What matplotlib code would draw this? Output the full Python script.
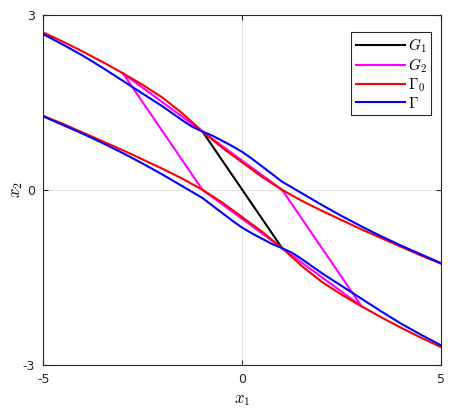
import matplotlib
matplotlib.use("Agg")
import matplotlib.pyplot as plt

plt.rcParams["mathtext.fontset"] = "cm"
plt.rcParams["axes.unicode_minus"] = False

# ── data ─────────────────────────────────────────────────
# G1: straight segment
g1_x = [-1, 1]
g1_y = [1, -1]

# G2: closed polygon
g2_x = [-3, -1, 1, 3, 1, -1, -3]
g2_y = [2, 1, 0, -2, -1, 0, 2]

# Gamma_0 (red), upper and lower branch
red_x = [-5, -4.5, -4, -3.5, -3, -2.5, -2, -1.5, -1, -0.5, 0,
         0.5, 1, 1.5, 2, 2.5, 3, 3.5, 4, 4.5, 5]
red_up = [2.70, 2.54, 2.37, 2.19, 2.00, 1.80, 1.58, 1.31, 1.00, 0.72, 0.47,
          0.22, 0.00, -0.19, -0.36, -0.52, -0.68, -0.83, -0.98, -1.13, -1.27]
red_lo = [1.27, 1.13, 0.98, 0.83, 0.68, 0.52, 0.36, 0.19, 0.00, -0.22, -0.47,
          -0.72, -1.00, -1.31, -1.58, -1.80, -2.00, -2.19, -2.37, -2.54, -2.70]

# Gamma (blue), upper and lower branch
blue_up_x = [-5, -4.5, -4, -3.5, -3, -2.5, -2, -1.75, -1.5, -1.25, -1,
             -0.75, -0.5, -0.25, 0, 0.25, 0.5, 0.75, 1, 1.5, 2, 2.5, 3,
             3.5, 4, 4.5, 5]
blue_up = [2.67, 2.49, 2.30, 2.09, 1.87, 1.65, 1.43, 1.31, 1.19, 1.08, 1.00,
           0.93, 0.84, 0.75, 0.65, 0.53, 0.40, 0.27, 0.14, -0.06, -0.26, -0.45, -0.63,
           -0.80, -0.96, -1.11, -1.26]
blue_lo_x = [-5, -4.5, -4, -3.5, -3, -2.5, -2, -1.5, -1, -0.75, -0.5,
             -0.25, 0, 0.25, 0.5, 0.75, 1, 1.25, 1.5, 1.75, 2, 2.5, 3,
             3.5, 4, 4.5, 5]
blue_lo = [1.26, 1.11, 0.96, 0.80, 0.63, 0.45, 0.26, 0.06, -0.14, -0.27, -0.40,
           -0.53, -0.65, -0.75, -0.84, -0.93, -1.00, -1.08, -1.19, -1.31, -1.43, -1.65, -1.87,
           -2.09, -2.30, -2.49, -2.67]

xticks = [-5, 0, 5]
yticks = [-3, 0, 3]

# ── figure ───────────────────────────────────────────────
fig = plt.figure(figsize=(4.54, 4.11), dpi=100)
ax = fig.add_axes([0.0954, 0.1127, 0.8766, 0.8508])

lw = 1.5
h1, = ax.plot(g1_x, g1_y, color="black", lw=lw)
h2, = ax.plot(g2_x, g2_y, color="#ff00ff", lw=lw)
h3, = ax.plot(red_x, red_up, color="#ff0000", lw=lw)
ax.plot(red_x, red_lo, color="#ff0000", lw=lw)
h4, = ax.plot(blue_up_x, blue_up, color="#0000ff", lw=lw)
ax.plot(blue_lo_x, blue_lo, color="#0000ff", lw=lw)

ax.set_xlim(-5, 5); ax.set_ylim(-3, 3)
ax.set_xticks(xticks); ax.set_yticks(yticks)
ax.tick_params(direction="in", length=3.5, width=0.8, top=True, right=True,
               labelsize=9, colors="#262626", pad=6)
ax.grid(True, color="#e3e3e3", lw=0.8)
ax.set_axisbelow(True)
for s in ax.spines.values():
    s.set_color("#262626"); s.set_linewidth(0.8)

ax.set_xlabel(r"$x_1$", fontsize=12, labelpad=3)
ax.set_ylabel(r"$x_2$", fontsize=12, labelpad=-2)

leg = ax.legend([h1, h2, h3, h4], [r"$G_1$", r"$G_2$", r"$\Gamma_0$", r"$\Gamma$"],
                loc="upper right", bbox_to_anchor=(0.975, 0.952), fontsize=11,
                fancybox=False, framealpha=1, edgecolor="#262626",
                handlelength=3.2, handletextpad=0.2, labelspacing=0.1,
                borderpad=0.3, borderaxespad=0)
leg.get_frame().set_linewidth(0.8)

fig.savefig("out.png", dpi=100)
